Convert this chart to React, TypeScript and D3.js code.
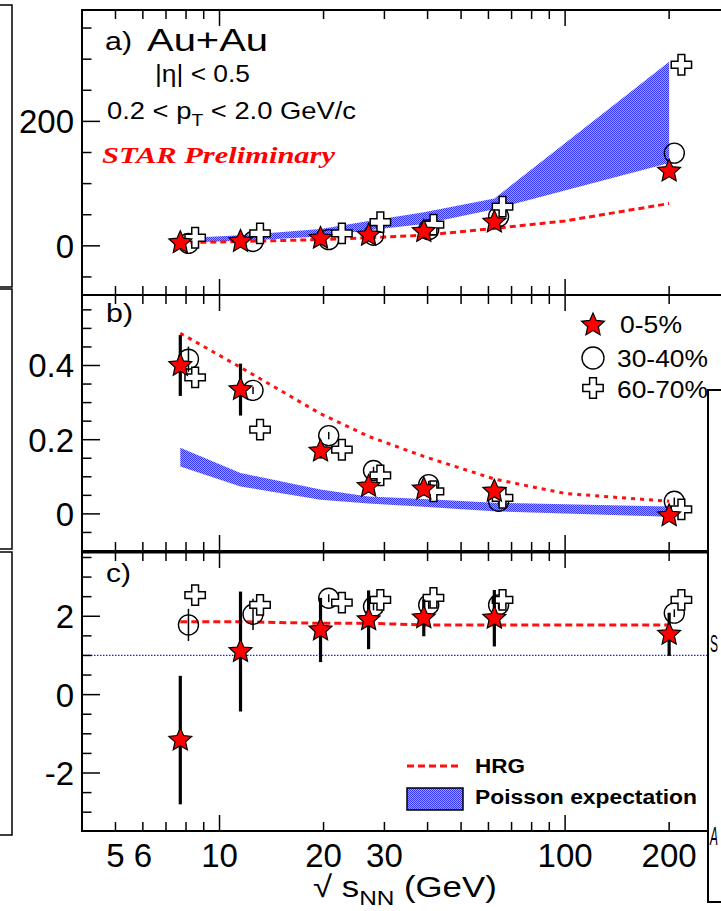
import React from 'react';
import * as d3 from 'd3';

// Beam energies (GeV) and the slightly shifted positions used for the other centralities
const energies = [7.7, 11.5, 19.6, 27, 39, 62.4, 200];
const circleEnergies = [8.13, 12.5, 20.7, 27.9, 40.3, 64.2, 207];
const crossEnergies = [8.5, 13.1, 22.6, 29.2, 41.6, 65.9, 217];
const hrgEnergies = [7.7, 11.5, 19.6, 27, 39, 62.4, 100, 200];

// a)
const starA = [5, 7, 12, 17, 23, 38, 120];
const circleA = [4, 7, 10, 17, 26, 47, 149];
const crossA = [13, 20, 20, 38, 34, 63, 291];
const poissonLowA = [5, 8, 15, 25, 35, 59, 133];
const poissonHighA = [12, 17, 27, 40, 54, 76, 296];
const hrgA = [5, 7, 10, 13, 17, 28, 40, 68];

// b)
const starB = [0.4, 0.335, 0.169, 0.074, 0.067, 0.061, -0.005];
const starErrB = [0.082, 0.07, 0.02, 0.015, 0.015, 0.015, 0.015];
const circleB = [0.417, 0.333, 0.211, 0.117, 0.079, 0.034, 0.034];
const circleErrB = [0.034, 0.01, 0.01, 0.01, 0.01, 0.01, 0.01];
const crossB = [0.368, 0.227, 0.173, 0.104, 0.061, 0.043, 0.012];
const poissonLowB = [0.128, 0.074, 0.038, 0.028, 0.019, 0.007, -0.008];
const poissonHighB = [0.178, 0.11, 0.066, 0.047, 0.04, 0.03, 0.02];
const hrgB = [0.487, 0.395, 0.27, 0.209, 0.155, 0.094, 0.055, 0.034];

// c)
const starC = [-1.16, 1.1, 1.65, 1.91, 1.96, 1.95, 1.54];
const starErrC = [1.64, 1.53, 0.82, 0.75, 0.47, 0.72, 0.55];
const circleC = [1.78, 2.05, 2.46, 2.25, 2.29, 2.29, 2.08];
const circleErrC = [0.41, 0.4, 0.1, 0.1, 0.1, 0.1, 0.1];
const crossC = [2.54, 2.29, 2.35, 2.42, 2.47, 2.42, 2.42];
const hrgC = [1.86, 1.86, 1.82, 1.82, 1.78, 1.78, 1.78, 1.78];
const poissonC = 1;

const xTickLabels = [5, 6, 10, 20, 30, 100, 200];
const yLabelsA = ['0', '200'];
const yLabelsB = ['0', '0.2', '0.4'];
const yLabelsC = ['-2', '0', '2'];
const legendCentralities = ['0-5%', '30-40%', '60-70%'];

const SANS = 'Liberation Sans, Arial, Helvetica, sans-serif';
const SERIF = 'Liberation Serif, Times New Roman, serif';

const x = d3.scaleLog().domain([4, 300]).range([82, 730]);
const X0 = 82;
const X1 = 730;

const starPath = d3
  .lineRadial<number>()
  .angle((_d, i) => (i * Math.PI) / 5)
  .radius((_d, i) => (i % 2 ? 5.6 : 12))
  .curve(d3.curveLinearClosed)(d3.range(10)) as string;
const crossPath = d3.symbol(d3.symbolCross, 230)() as string;

type PanelProps = {
  top: number;
  bottom: number;
  domain: [number, number];
  minorStep: number;
  labels: string[];
  star: number[];
  starErr?: number[];
  circle: number[];
  circleErr?: number[];
  cross: number[];
  low?: number[];
  high?: number[];
  hrg: number[];
  hrgDash: string;
  poissonLine?: number;
  xLabels?: boolean;
};

function Panel(p: PanelProps) {
  const y = d3.scaleLinear().domain(p.domain).range([p.bottom, p.top]);
  const majors = p.labels.map(Number);
  const minors = d3
    .range(Math.ceil(p.domain[0] / p.minorStep) * p.minorStep, p.domain[1], p.minorStep)
    .filter((v) => !majors.some((m) => Math.abs(m - v) < 1e-9));
  const xt = x.ticks().filter((t) => t > 4 && t < 300);
  const isMajor = (t: number) => Math.abs(Math.log10(t) - Math.round(Math.log10(t))) < 1e-9;

  const band =
    p.low && p.high
      ? d3
          .area<number>()
          .x((_d, i) => x(energies[i]))
          .y0((_d, i) => y(p.low![i]))
          .y1((d) => y(d))(p.high)
      : null;
  const hrgLine = d3
    .line<number>()
    .x((_d, i) => x(hrgEnergies[i]))
    .y((d) => y(d))(p.hrg);

  return (
    <g>
      <defs>
        <clipPath id={`clip${p.top}`}>
          <rect x={X0} y={p.top} width={X1 - X0} height={p.bottom - p.top} />
        </clipPath>
      </defs>
      <g clipPath={`url(#clip${p.top})`}>
        {band && <path d={band} fill="url(#poisson)" />}
        {p.poissonLine !== undefined && (
          <line x1={X0} x2={X1} y1={y(p.poissonLine)} y2={y(p.poissonLine)} stroke="#2020ff" strokeWidth={1.2} strokeDasharray="1.5 1.5" />
        )}
        <path d={hrgLine as string} fill="none" stroke="#ff1010" strokeWidth={3} strokeDasharray={p.hrgDash} />
        {p.circleErr &&
          p.circle.map((v, i) => (
            <line key={`ce${i}`} x1={x(circleEnergies[i])} x2={x(circleEnergies[i])} y1={y(v - p.circleErr![i])} y2={y(v + p.circleErr![i])} stroke="#000" strokeWidth={1.5} />
          ))}
        {p.circle.map((v, i) => (
          <circle key={`c${i}`} cx={x(circleEnergies[i])} cy={y(v)} r={10} fill="none" stroke="#000" strokeWidth={1.4} />
        ))}
        {p.cross.map((v, i) => (
          <path key={`x${i}`} d={crossPath} transform={`translate(${x(crossEnergies[i])},${y(v)})`} fill="#fff" stroke="#000" strokeWidth={1.5} />
        ))}
        {p.starErr &&
          p.star.map((v, i) => (
            <line key={`se${i}`} x1={x(energies[i])} x2={x(energies[i])} y1={y(v - p.starErr![i])} y2={y(v + p.starErr![i])} stroke="#000" strokeWidth={3.2} />
          ))}
        {p.star.map((v, i) => (
          <path key={`s${i}`} d={starPath} transform={`translate(${x(energies[i])},${y(v)})`} fill="#ff0000" stroke="#000" strokeWidth={1.2} />
        ))}
      </g>
      <rect x={X0} y={p.top} width={X1 - X0} height={p.bottom - p.top} fill="none" stroke="#000" strokeWidth={2} />
      {majors.map((m) => (
        <line key={`ym${m}`} x1={X0} x2={X0 + 18} y1={y(m)} y2={y(m)} stroke="#000" strokeWidth={1.5} />
      ))}
      {minors.map((m) => (
        <line key={`yn${m}`} x1={X0} x2={X0 + 9.5} y1={y(m)} y2={y(m)} stroke="#000" strokeWidth={1.5} />
      ))}
      {p.labels.map((l) => (
        <text key={`yl${l}`} x={74} y={y(Number(l))} dy="0.36em" textAnchor="end" fontFamily={SANS} fontSize={33}>
          {l}
        </text>
      ))}
      {xt.map((t) => {
        const len = isMajor(t) ? 16 : 9;
        return (
          <g key={`xt${t}`}>
            <line x1={x(t)} x2={x(t)} y1={p.top} y2={p.top + len} stroke="#000" strokeWidth={1.5} />
            <line x1={x(t)} x2={x(t)} y1={p.bottom} y2={p.bottom - len} stroke="#000" strokeWidth={1.5} />
          </g>
        );
      })}
      {p.xLabels &&
        xTickLabels.map((t) => (
          <text key={`xl${t}`} x={x(t)} y={p.bottom + 36} textAnchor="middle" fontFamily={SANS} fontSize={33}>
            {t}
          </text>
        ))}
    </g>
  );
}

export default function App() {
  const W = 721;
  const H = 911;
  return (
    <svg width={W} height={H} viewBox={`0 0 ${W} ${H}`} style={{ position: 'absolute', left: 0, top: 0, background: '#fff' }}>
      <defs>
        <pattern id="poisson" width={2} height={2} patternUnits="userSpaceOnUse">
          <rect width={2} height={2} fill="#a0a0ff" />
          <rect width={1} height={1} fill="#3434f4" />
          <rect x={1} y={1} width={1} height={1} fill="#3434f4" />
        </pattern>
      </defs>
      <rect width={W} height={H} fill="#fff" />

      {/* neighbouring frames on the left */}
      <rect x={-5} y={5} width={17} height={282} fill="none" stroke="#000" strokeWidth={1.5} />
      <rect x={-5} y={289} width={17} height={260} fill="none" stroke="#000" strokeWidth={1.5} />
      <rect x={-5} y={552} width={17} height={283} fill="none" stroke="#000" strokeWidth={1.5} />

      <Panel top={10} bottom={295} domain={[-79, 379]} minorStep={50} labels={yLabelsA}
        star={starA} circle={circleA} cross={crossA} low={poissonLowA} high={poissonHighA} hrg={hrgA} hrgDash="6 4" />
      <Panel top={295} bottom={551} domain={[-0.1, 0.59]} minorStep={0.05} labels={yLabelsB}
        star={starB} starErr={starErrB} circle={circleB} circleErr={circleErrB} cross={crossB}
        low={poissonLowB} high={poissonHighB} hrg={hrgB} hrgDash="4 5" />
      <Panel top={552} bottom={831} domain={[-3.48, 3.64]} minorStep={0.5} labels={yLabelsC}
        star={starC} starErr={starErrC} circle={circleC} circleErr={circleErrC} cross={crossC}
        hrg={hrgC} hrgDash="7 4" poissonLine={poissonC} xLabels />
      <line x1={X0} x2={X1} y1={552} y2={552} stroke="#000" strokeWidth={3} />

      {/* panel a annotations */}
      <text x={105} y={50} fontFamily={SANS} fontSize={25} textLength={27} lengthAdjust="spacingAndGlyphs">a)</text>
      <text x={147} y={51} fontFamily={SANS} fontSize={31} textLength={121} lengthAdjust="spacingAndGlyphs">Au+Au</text>
      <text x={155} y={82} fontFamily={SANS} fontSize={23} textLength={95} lengthAdjust="spacingAndGlyphs">|η| &lt; 0.5</text>
      <g transform="translate(107,119) scale(1.14,1)">
        <text x={0} y={0} fontFamily={SANS} fontSize={24}>
          0.2 &lt; p<tspan fontSize={17} dy={7}>T</tspan><tspan dy={-7}> &lt; 2.0 GeV/c</tspan>
        </text>
      </g>
      <text x={102} y={163} fontFamily={SERIF} fontSize={24} fontWeight="bold" fontStyle="italic" fill="#ff0000" textLength={233} lengthAdjust="spacingAndGlyphs">STAR Preliminary</text>

      <text x={106} y={322} fontFamily={SANS} fontSize={25} textLength={27} lengthAdjust="spacingAndGlyphs">b)</text>
      <text x={106} y={582} fontFamily={SANS} fontSize={25} textLength={25} lengthAdjust="spacingAndGlyphs">c)</text>

      {/* centrality legend */}
      <path d={starPath} transform="translate(593,325)" fill="#ff0000" stroke="#000" strokeWidth={1.2} />
      <circle cx={593} cy={358} r={11} fill="none" stroke="#000" strokeWidth={1.4} />
      <path d={crossPath} transform="translate(593,388)" fill="#fff" stroke="#000" strokeWidth={1.5} />
      {legendCentralities.map((t, i) => (
        <text key={t} x={i === 0 ? 620 : 617} y={[333, 367, 398][i]} fontFamily={SANS} fontSize={24}
          textLength={i === 0 ? 62 : 91} lengthAdjust="spacingAndGlyphs">{t}</text>
      ))}

      {/* model legend */}
      <line x1={407} x2={462} y1={766} y2={766} stroke="#ff1010" strokeWidth={3} strokeDasharray="7 4" />
      <text x={475} y={773} fontFamily={SANS} fontSize={20} fontWeight="bold" textLength={50} lengthAdjust="spacingAndGlyphs">HRG</text>
      <rect x={407} y={788} width={56} height={22} fill="url(#poisson)" stroke="#000" strokeWidth={1.5} />
      <text x={475} y={804} fontFamily={SANS} fontSize={20} fontWeight="bold" textLength={222} lengthAdjust="spacingAndGlyphs">Poisson expectation</text>

      {/* x-axis title */}
      <g transform="translate(313,897) scale(1.16,1)">
        <text x={0} y={0} fontFamily={SANS} fontSize={30}>
          √ s<tspan fontSize={21} dy={8}>NN</tspan><tspan dy={-8}> (GeV)</tspan>
        </text>
      </g>

      {/* neighbouring frame on the right */}
      <rect x={708} y={390} width={40} height={512} fill="#fff" stroke="#000" strokeWidth={2} />
      <text x={710} y={652} fontFamily={SANS} fontSize={24} textLength={8} lengthAdjust="spacingAndGlyphs">S</text>
      <text x={710} y={845} fontFamily={SANS} fontSize={26} fontStyle="italic" textLength={8} lengthAdjust="spacingAndGlyphs">A</text>
    </svg>
  );
}
